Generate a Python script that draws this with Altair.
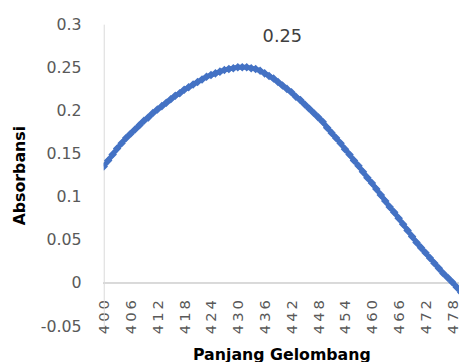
import altair as alt
import pandas as pd

wavelengths = list(range(400, 481))
absorbance = [
    0.135, 0.142, 0.149, 0.156, 0.162, 0.168, 0.173, 0.178, 0.183, 0.188,
    0.192, 0.197, 0.201, 0.205, 0.209, 0.213, 0.217, 0.220, 0.224, 0.227,
    0.230, 0.233, 0.236, 0.239, 0.241, 0.243, 0.245, 0.247, 0.248, 0.249,
    0.250, 0.250, 0.250, 0.249, 0.248, 0.246, 0.243, 0.240, 0.237, 0.233,
    0.229, 0.225, 0.221, 0.216, 0.212, 0.207, 0.202, 0.197, 0.192, 0.187,
    0.180, 0.174, 0.168, 0.162, 0.155, 0.149, 0.142, 0.136, 0.129, 0.122,
    0.116, 0.109, 0.102, 0.095, 0.088, 0.082, 0.075, 0.068, 0.061, 0.054,
    0.047, 0.041, 0.035, 0.029, 0.023, 0.017, 0.011, 0.006, 0.001, -0.005,
    -0.011,
]
x_ticks = list(range(400, 479, 6))
y_ticks = [-0.05, 0, 0.05, 0.1, 0.15, 0.2, 0.25, 0.3]
title_text = "0.25"

df = pd.DataFrame({"nm": wavelengths, "abs": absorbance})

FONT = "DejaVu Sans"
BLUE = "#4472C4"

x = alt.X("nm:Q", scale=alt.Scale(domain=[400, 479.5], nice=False, zero=False),
          axis=alt.Axis(values=x_ticks, labelAngle=270, labelFontSize=15,
                        labelColor="#595959", labelFont=FONT, domain=False,
                        ticks=False, tickSize=0, grid=False, labelPadding=17,
                        labelExpr="join(split(datum.label, ''), '\u2009')",
                        offset=-44, title="Panjang Gelombang", titleFont=FONT,
                        titleFontSize=16, titleFontWeight="bold", titleColor="#000000",
                        titleBaseline="alphabetic", titleY=78, labelOverlap=False,
                        labelFlush=False, labelBound=False))
y = alt.Y("abs:Q", scale=alt.Scale(domain=[-0.05, 0.3], nice=False, zero=False),
          axis=alt.Axis(values=y_ticks, format=".2~f", labelFontSize=16,
                        labelExpr="replace(datum.label, '\u2212', '-')",
                        labelColor="#595959", labelFont=FONT, grid=False,
                        domain=True, domainColor="#d9d9d9", ticks=False, tickSize=0,
                        labelPadding=23, title="Absorbansi", titleFont=FONT,
                        titleFontSize=16, titleFontWeight="bold", titleColor="#000000",
                        titleX=-85, titleY=153, titleAngle=270, titleAlign="center",
                        titleBaseline="middle"))

base = alt.Chart(df)
zero_rule = alt.Chart(df).mark_rule(color="#d9d9d9", strokeWidth=1).encode(y=alt.datum(0))
line = base.mark_line(color=BLUE, strokeWidth=5, clip=True).encode(x=x, y=y)
pts = base.mark_point(shape="diamond", filled=True, size=75, color=BLUE, opacity=1,
                      clip=True).encode(x=x, y=y)
label = alt.Chart(pd.DataFrame({"t": [title_text]})).mark_text(
    fontSize=18, font=FONT, color="#404040").encode(
    text="t:N", x=alt.value(181), y=alt.value(13))

chart = alt.layer(zero_rule, line, pts, label).properties(
    width=360, height=306,
    autosize=alt.AutoSizeParams(type="none"),
    padding={"left": 97, "top": 14, "right": 0, "bottom": 40},
).configure_view(stroke=None).configure_axisX(labelOverlap=False)

chart.save("out.html", embed_options={"renderer": "svg", "actions": False})
